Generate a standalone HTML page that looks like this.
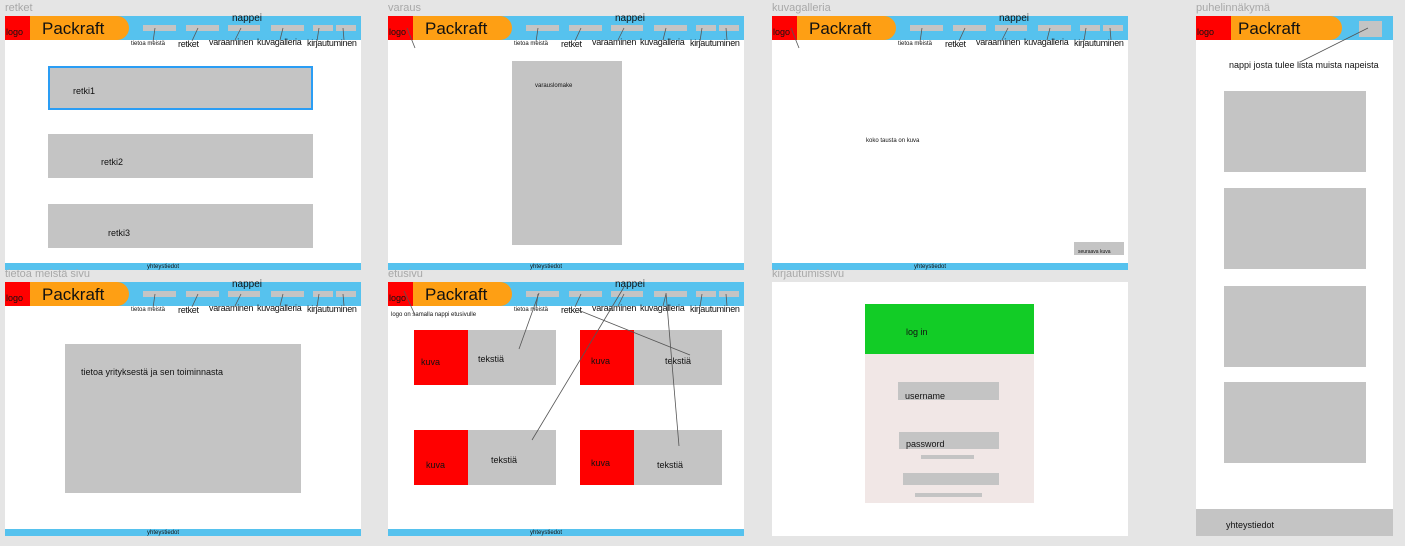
<!DOCTYPE html>
<html><head><meta charset="utf-8"><style>
body{margin:0;width:1405px;height:546px;background:#e5e5e5;position:relative;overflow:hidden;font-family:"Liberation Sans",sans-serif;color:#111}
div{position:absolute;box-sizing:border-box}
.lbl{color:#a8a8a8;font-size:11px;white-space:nowrap}
.t{white-space:nowrap;line-height:1}
svg{position:absolute;left:0;top:0}
</style></head><body>
<div id="root"></div>
<script>
var h='',ox=0,oy=0;
function d(x,y,w,hh,st,txt){h+='<div style="left:'+(x-ox)+'px;top:'+(y-oy)+'px;width:'+w+'px;height:'+hh+'px;'+(st||'')+'">'+(txt||'')+'</div>';}
function t(x,y,s,txt,st){h+='<div class="t" style="left:'+(x-ox)+'px;top:'+(y-oy)+'px;font-size:'+s+'px;'+(st||'')+'">'+txt+'</div>';}
var lines=[];
function L(a,b,c,e){lines.push([a,b,c,e]);}
function frame(x,y,w,hh,name){h+='<div class="lbl" style="left:'+x+'px;top:'+(y-14)+'px">'+name+'</div>';d(x,y,w,hh,'background:#fff');}
function header(x,y){
 h+='<div style="left:'+x+'px;top:'+(y-4)+'px;width:356px;height:40px;overflow:hidden">';
 ox=x;oy=y-4;
 d(x,y,356,24,'background:#56c2ee');
 d(x+25,y,99,24,'background:#fe9f14;border-radius:0 12px 12px 0');
 d(x,y,25,24,'background:#ff0000');
 t(x+1,y+12,9,'logo');
 t(x+37,y+4,17,'Packraft');
 var bx=[[138,33],[181,33],[223,32],[266,33],[308,20],[331,20]];
 bx.forEach(function(b){d(x+b[0],y+9,b[1],6,'background:#c4c4c4');});
 t(x+227,y-2,10,'nappei');
 t(x+126,y+25,6,'tietoa meistä');
 var ls='letter-spacing:-0.3px';
 t(x+173,y+24,9,'retket',ls);
 t(x+204,y+22,9,'varaaminen',ls);
 t(x+252,y+22,9,'kuvagalleria',ls);
 t(x+302,y+23,9,'kirjautuminen',ls);
 h+='</div>';ox=0;oy=0;
 L(x+150,y+12,x+148,y+26);L(x+193,y+12,x+187,y+25);L(x+236,y+12,x+230,y+24);L(x+278,y+12,x+275,y+24);L(x+314,y+12,x+312,y+25);L(x+338,y+12,x+339,y+24);
}
function footer(x,y){d(x,y,356,7,'background:#56c2ee');t(x+142,y+1,6,'yhteystiedot');}
frame(5,16,356,254,'retket');header(5,16);footer(5,263);
d(48,66,265,44,'background:#c4c4c4;border:2px solid #2a9df4');t(73,87,9,'retki1');
d(48,134,265,44,'background:#c4c4c4');t(101,158,9,'retki2');
d(48,204,265,44,'background:#c4c4c4');t(108,229,9,'retki3');

frame(388,16,356,254,'varaus');header(388,16);footer(388,263);
d(512,61,110,184,'background:#c4c4c4');t(535,83,6,'varauslomake');L(407,28,415,48);

frame(772,16,356,254,'kuvagalleria');header(772,16);footer(772,263);
t(866,138,6,'koko tausta on kuva');
d(1074,242,50,13,'background:#c4c4c4');t(1078,250,5,'seuraava kuva');L(791,28,799,48);

frame(5,282,356,254,'tietoa meistä sivu');header(5,282);footer(5,529);
d(65,344,236,149,'background:#c4c4c4');t(81,368,9,'tietoa yrityksestä ja sen toiminnasta');

frame(388,282,356,254,'etusivu');header(388,282);footer(388,529);
t(391,312,6,'logo on samalla nappi etusivulle');
function card(x,y){d(x,y,54,55,'background:#ff0000');d(x+54,y,88,55,'background:#c4c4c4');}
card(414,330);card(580,330);card(414,430);card(580,430);
t(421,358,9,'kuva');t(478,355,9,'tekstiä');t(591,357,9,'kuva');t(665,357,9,'tekstiä');
t(426,461,9,'kuva');t(491,456,9,'tekstiä');t(591,459,9,'kuva');t(657,461,9,'tekstiä');
L(404,291,415,315);L(539,293,519,349);L(624,287,532,440);L(578,310,690,355);L(666,293,679,446);

frame(772,282,356,254,'kirjautumissivu');
d(865,304,169,50,'background:#12cc26');t(906,328,9,'log in');
d(865,354,169,149,'background:#f1e7e6');
d(898,382,101,18,'background:#c4c4c4');t(905,392,9,'username');
d(899,432,100,17,'background:#c4c4c4');t(906,440,9,'password');
d(921,455,53,4,'background:#c4c4c4');d(903,473,96,12,'background:#c4c4c4');d(915,493,67,4,'background:#c4c4c4');

frame(1196,16,197,520,'puhelinnäkymä');
d(1196,16,197,24,'background:#56c2ee');d(1231,16,111,24,'background:#fe9f14;border-radius:0 12px 12px 0');
d(1196,16,35,24,'background:#ff0000');t(1197,28,9,'logo');t(1238,20,17,'Packraft');
d(1359,21,23,16,'background:#c4c4c4');
t(1229,61,9,'nappi josta tulee lista muista napeista');L(1368,28,1300,62);
[91,188,286,382].forEach(function(y){d(1224,y,142,81,'background:#c4c4c4');});
d(1196,509,197,27,'background:#c4c4c4');t(1226,521,9,'yhteystiedot');

var s='<svg width="1405" height="546">';
lines.forEach(function(l){s+='<line x1="'+l[0]+'" y1="'+l[1]+'" x2="'+l[2]+'" y2="'+l[3]+'" stroke="#555" stroke-width="0.8"/>';});
s+='</svg>';
document.getElementById('root').outerHTML=h+s;
</script>
</body></html>
